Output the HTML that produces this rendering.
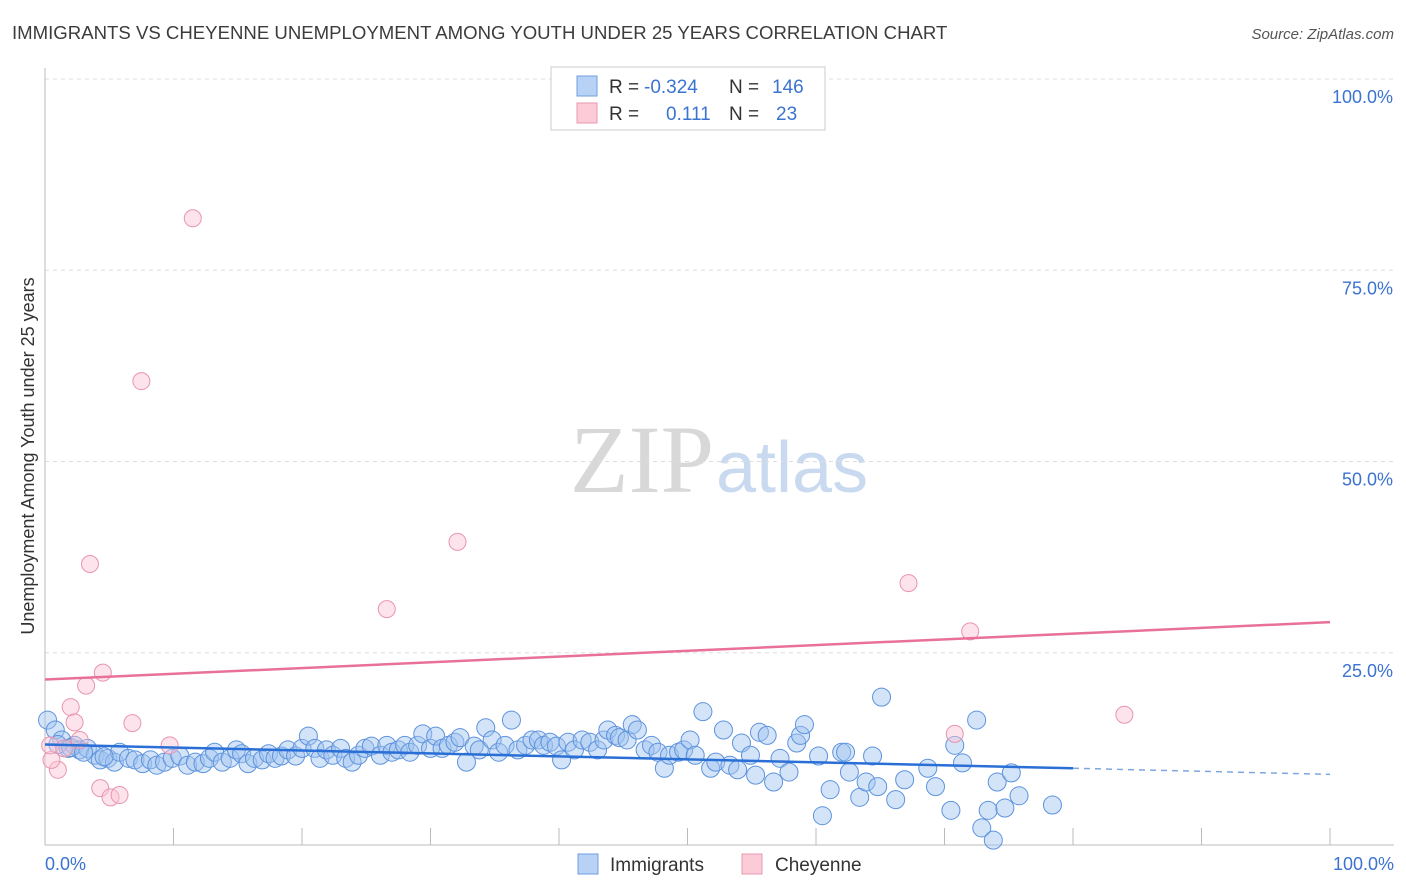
<!DOCTYPE html>
<html><head><meta charset="utf-8">
<style>
body{margin:0;background:#fff;font-family:"Liberation Sans",sans-serif;}
svg{display:block}
</style></head>
<body>
<svg id="chart" width="1406" height="892" xmlns="http://www.w3.org/2000/svg">
<text x="12" y="39" font-size="18.6" fill="#3c3c3c">IMMIGRANTS VS CHEYENNE UNEMPLOYMENT AMONG YOUTH UNDER 25 YEARS CORRELATION CHART</text>
<text x="1394" y="39" font-size="15" fill="#555" font-style="italic" text-anchor="end">Source: ZipAtlas.com</text>
<text x="714" y="492" font-size="96" fill="#d8d8d8" text-anchor="end" font-family="Liberation Serif">ZIP</text>
<text x="716" y="492" font-size="72" fill="#c9daf0">atlas</text>
<g id="grid"></g>
<g id="axes"></g>
<g id="pts"></g>
<g id="trends"></g>
<text transform="translate(34,456) rotate(-90)" font-size="18" fill="#333" text-anchor="middle">Unemployment Among Youth under 25 years</text>
<text x="45" y="870" font-size="18" fill="#3b73d0">0.0%</text>
<text x="1394" y="870" font-size="18" fill="#3b73d0" text-anchor="end">100.0%</text>
<g>
<rect x="551" y="67" width="274" height="63" fill="#fff" stroke="#ccc"/>
<rect x="577" y="76" width="20" height="20" fill="#b7d2f5" stroke="#6f9ee0"/>
<rect x="577" y="103" width="20" height="20" fill="#fbcbd8" stroke="#e89ab0"/>
<text y="93" font-size="19" fill="#333"><tspan x="609">R = </tspan><tspan fill="#3b73d0" x="644">-0.324</tspan><tspan x="729">N = </tspan><tspan fill="#3b73d0" x="772">146</tspan></text>
<text y="120" font-size="19" fill="#333"><tspan x="609">R = </tspan><tspan fill="#3b73d0" x="666">0.111</tspan><tspan x="729">N = </tspan><tspan fill="#3b73d0" x="776">23</tspan></text>
</g>
<g>
<rect x="578" y="854" width="20" height="20" fill="#b7d2f5" stroke="#6f9ee0"/>
<text x="610" y="871" font-size="19" fill="#333">Immigrants</text>
<rect x="742" y="854" width="20" height="20" fill="#fbcbd8" stroke="#e89ab0"/>
<text x="775" y="871" font-size="19" fill="#333">Cheyenne</text>
</g>
</svg>
<script>
const yTicks=[25,50,75,100];
const yTickLabels=["25.0%","50.0%","75.0%","100.0%"];
const xTicks=[0,10,20,30,40,50,60,70,80,90,100];
const blueX=[0.2,0.8,1.3,1.8,2.3,2.7,3.3,3.9,4.3,4.9,5.4,5.8,6.5,7.0,7.6,8.2,8.7,9.3,9.9,10.5,11.1,11.7,12.3,12.8,13.2,13.8,14.4,14.9,15.3,15.8,16.3,16.9,17.4,17.9,18.4,18.9,19.5,20.0,20.5,21.0,21.4,21.9,22.4,23.0,23.4,23.9,24.4,24.9,25.4,26.1,26.6,27.0,27.5,28.0,28.4,29.0,29.4,30.0,30.4,30.9,31.4,31.9,32.3,32.8,33.4,33.8,34.3,34.8,35.3,35.8,36.3,36.8,37.4,37.9,38.4,38.8,39.3,39.8,40.2,40.7,41.2,41.8,42.4,43.0,43.5,43.8,44.4,44.7,45.3,45.7,46.1,46.7,47.2,47.7,48.2,48.6,49.3,49.7,50.2,50.6,51.2,51.8,52.2,52.8,53.3,53.9,54.2,54.9,55.3,55.6,56.2,56.7,57.2,57.9,58.5,58.8,59.1,60.2,60.5,61.1,62.0,62.3,62.6,63.4,63.9,64.4,64.8,65.1,66.2,66.9,68.7,69.3,70.5,70.8,71.4,72.5,72.9,73.4,73.8,74.1,74.7,75.2,75.8,78.4,1.0,2.0,3.0,4.6];
const blueY=[16.2,14.9,13.6,12.5,12.9,12.3,12.5,11.6,11.0,11.2,10.7,12.0,11.2,11.0,10.5,11.0,10.3,10.7,11.2,11.5,10.3,10.7,10.5,11.2,12.0,10.7,11.2,12.3,11.8,10.5,11.2,11.0,11.8,11.2,11.5,12.3,11.5,12.5,14.1,12.5,11.2,12.3,11.6,12.5,11.2,10.7,11.6,12.5,12.8,11.6,12.9,12.0,12.3,12.9,12.0,12.9,14.4,12.5,14.1,12.5,12.9,13.3,13.9,10.7,12.8,12.3,15.2,13.6,12.0,12.9,16.2,12.3,12.9,13.6,13.6,12.9,13.3,12.8,11.0,13.3,12.3,13.6,13.3,12.3,13.6,14.9,14.2,13.9,13.6,15.6,14.9,12.3,12.9,12.0,9.9,11.6,12.0,12.3,13.6,11.6,17.3,9.9,10.7,14.9,10.3,9.7,13.2,11.6,9.0,14.6,14.2,8.1,11.2,9.4,13.2,14.2,15.6,11.5,3.7,7.1,12.0,12.0,9.4,6.1,8.1,11.5,7.5,19.2,5.8,8.4,9.9,7.5,4.4,12.9,10.6,16.2,2.1,4.4,0.5,8.1,4.7,9.3,6.3,5.1,13.0,12.6,12.0,11.4];
const pinkX=[11.5,7.5,3.5,32.1,26.6,67.2,72.0,84.0,70.8,4.5,3.2,2.0,2.3,6.8,9.7,1.0,0.5,0.4,2.7,4.3,5.1,5.8,1.5];
const pinkY=[81.8,60.5,36.6,39.5,30.7,34.1,27.8,16.9,14.4,22.4,20.7,17.9,15.9,15.8,12.9,9.7,11.0,12.9,13.6,7.3,6.1,6.4,12.5];
const blueTrend=[[0,13.0],[80,9.9],[100,9.1]];
const pinkTrend=[[0,21.5],[100,29.0]];
const NS="http://www.w3.org/2000/svg";
const X=v=>45+v*12.85, Y=v=>844-v*7.65;
function mk(t,a,p){const e=document.createElementNS(NS,t);for(const k in a)e.setAttribute(k,a[k]);document.getElementById(p).appendChild(e);return e;}
yTicks.forEach((t,i)=>{
 const l=mk('line',{x1:45,x2:1394,y1:Y(t),y2:Y(t),stroke:'#ddd','stroke-dasharray':'4,4'},'grid');
 
 
 const tx=mk('text',{x:1393,y:Y(t)+24,'font-size':18,fill:'#3b73d0','text-anchor':'end'},'grid');
 tx.textContent=yTickLabels[i];
 
 
});
const ax=mk('line',{x1:45,x2:45,y1:68,y2:845,stroke:'#bbb'},'axes');


const bx=mk('line',{x1:45,x2:1394,y1:845,y2:845,stroke:'#bbb'},'axes');


xTicks.forEach(t=>{
 const l=mk('line',{x1:X(t),x2:X(t),y1:828,y2:845,stroke:'#bbb'},'axes');
 
 
});
blueX.forEach((v,i)=>{
 const c=mk('circle',{cx:X(v),cy:Y(blueY[i]),r:9,fill:'rgba(160,196,240,0.45)',stroke:'#5d93dd','stroke-width':1},'pts');
 
 
});
pinkX.forEach((v,i)=>{
 const c=mk('circle',{cx:X(v),cy:Y(pinkY[i]),r:8.5,fill:'rgba(250,195,212,0.45)',stroke:'#e895ae','stroke-width':1},'pts');
 
 
});
const b1=mk('line',{x1:X(blueTrend[0][0]),y1:Y(blueTrend[0][1]),x2:X(blueTrend[1][0]),y2:Y(blueTrend[1][1]),stroke:'#2a6fd6','stroke-width':2.5},'trends');


const b2=mk('line',{x1:X(blueTrend[1][0]),y1:Y(blueTrend[1][1]),x2:X(blueTrend[2][0]),y2:Y(blueTrend[2][1]),stroke:'#7ea6e0','stroke-width':1.5,'stroke-dasharray':'6,5'},'trends');


const p1=mk('line',{x1:X(pinkTrend[0][0]),y1:Y(pinkTrend[0][1]),x2:X(pinkTrend[1][0]),y2:Y(pinkTrend[1][1]),stroke:'#e8709a','stroke-width':2.5},'trends');


</script>
</body></html>
